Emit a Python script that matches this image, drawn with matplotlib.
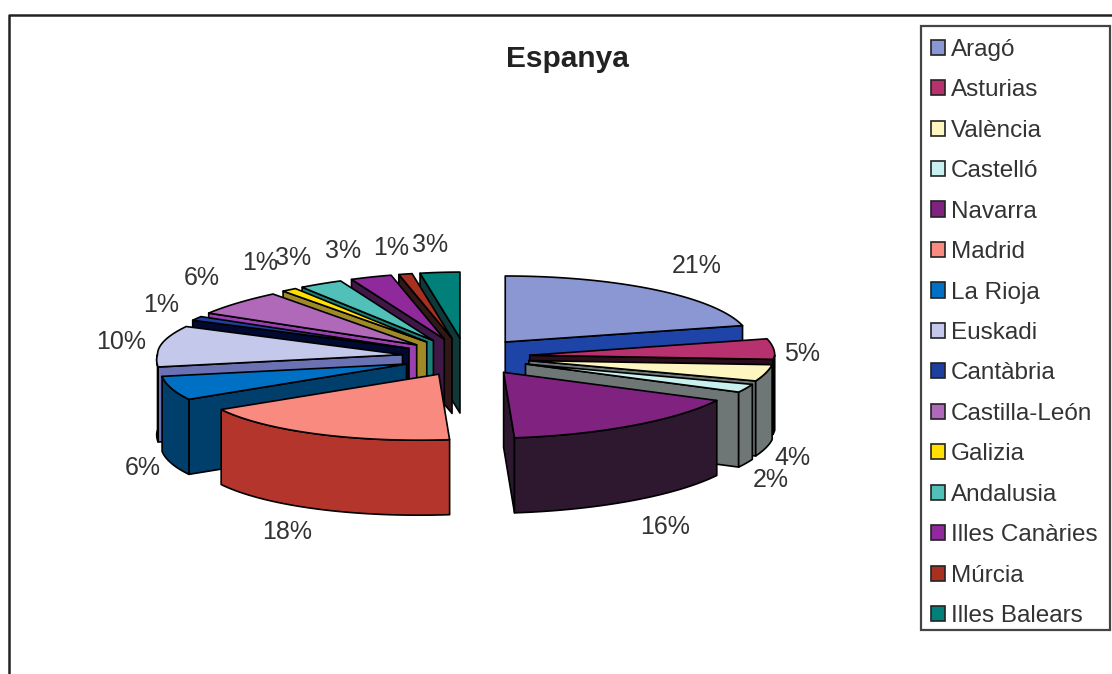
import numpy as np
import matplotlib
matplotlib.use("Agg")
import matplotlib.pyplot as plt
from matplotlib.patches import Patch, Polygon, Rectangle

plt.rcParams["font.family"] = ["Liberation Sans", "DejaVu Sans"]

REGIONS = ["Aragó", "Asturias", "València", "Castelló", "Navarra", "Madrid", "La Rioja", "Euskadi",
           "Cantàbria", "Castilla-León", "Galizia", "Andalusia", "Illes Canàries", "Múrcia", "Illes Balears"]
VALUES = [21, 5, 4, 2, 16, 18, 6, 10, 1, 6, 1, 3, 3, 1, 3]
TOP_COLORS = ["#8a97d2", "#b8316f", "#fdf6c0", "#c8f0ee", "#7f2280", "#f88a80", "#0070c4", "#c4c8ea",
              "#1e3ea0", "#b068b8", "#ffe000", "#50c0b8", "#902a9c", "#a83020", "#008078"]
WALL_COLORS = ["#1f44a8", "#2b0f1c", "#6e7676", "#6e7676", "#2e1830", "#b4352c", "#003f6c", "#6a72b4",
               "#000a30", "#9a40b0", "#a08a28", "#1a8078", "#401848", "#301818", "#103838"]

# pixel positions of the percent labels, same order as VALUES
LABEL_X = [697, 802, 792, 771, 665, 287, 143, 121, 161, 202, 260, 293, 343, 391, 430]
LABEL_Y = [266, 354, 458, 480, 527, 532, 468, 342, 305, 278, 263, 258, 251, 248, 245]

CX, CY = 466, 357
RX, RY = 245, 66
EXPLODE_X, EXPLODE_Y = 64, 19
HEIGHT = 75
FRONT_SKEW = 20
BACK_SQUEEZE = 33


def rim(apex, t):
    # outer edge of a slice, the old 3D charts are not a true ellipse:
    # front leans a bit left, back left part is squeezed to the right
    t = np.radians(t)
    x = apex[0] + RX * np.sin(t) - FRONT_SKEW * np.maximum(0, -np.cos(t))
    x = x + BACK_SQUEEZE * np.maximum(0, -np.sin(t)) * np.maximum(0, np.cos(t)) ** 2
    y = apex[1] - RY * np.cos(t)
    return np.column_stack([x, y])


def add_face(ax, pts, color):
    ax.add_patch(Polygon(pts, closed=True, facecolor=color, edgecolor="black", lw=1.2, joinstyle="round"))


def wall(ax, top_pts, color):
    add_face(ax, np.vstack([top_pts, (top_pts + [0, HEIGHT])[::-1]]), color)


def draw_slice(ax, start, end, top_color, wall_color):
    mid = np.radians((start + end) / 2)
    apex = np.array([CX + EXPLODE_X * np.sin(mid), CY - EXPLODE_Y * np.cos(mid)])
    arc = rim(apex, np.linspace(start, end, 60))

    if start > 180:
        wall(ax, np.vstack([apex, arc[0]]), wall_color)
    if end < 180:
        wall(ax, np.vstack([apex, arc[-1]]), wall_color)
    lo, hi = max(start, 90), min(end, 270)
    if lo < hi:
        wall(ax, rim(apex, np.linspace(lo, hi, 40)), wall_color)
    add_face(ax, np.vstack([apex, arc]), top_color)


def main():
    fig = plt.figure(figsize=(11.12, 6.74), dpi=100)
    ax = fig.add_axes([0, 0, 1, 1])
    ax.set_xlim(0, 1112)
    ax.set_ylim(674, 0)
    ax.axis("off")

    # chart frame runs off the picture on the right and bottom
    ax.plot([9, 9, 1112], [674, 15, 15], color="#222222", lw=1.8)

    edges = np.cumsum([0] + VALUES) / sum(VALUES) * 360
    order = sorted(range(len(VALUES)), key=lambda i: min((edges[i] + edges[i + 1]) / 2,
                                                         360 - (edges[i] + edges[i + 1]) / 2))
    for i in order:
        draw_slice(ax, edges[i], edges[i + 1], TOP_COLORS[i], WALL_COLORS[i])

    for v, x, y in zip(VALUES, LABEL_X, LABEL_Y):
        ax.text(x, y, f"{v}%", ha="center", va="center", fontsize=18, color="#333333")

    ax.text(567, 59, "Espanya", ha="center", va="center", fontsize=21.5, color="#222222", fontweight="bold")

    # legend frame drawn on its own, the legend's own padding can't match top and bottom
    ax.add_patch(Rectangle((921, 26), 189, 604, facecolor="white", edgecolor="#444444", lw=1.6))
    handles = [Patch(facecolor=c, edgecolor="#222222", lw=1.2) for c in TOP_COLORS]
    ax.legend(handles, REGIONS, loc="upper left", bbox_to_anchor=(921, 29), bbox_transform=ax.transData,
              borderaxespad=0, fontsize=17.5, frameon=False, labelcolor="#333333",
              handlelength=0.58, handleheight=0.58, handletextpad=0.25,
              labelspacing=0.76, borderpad=0.4)

    fig.savefig("out.png", dpi=100)
    plt.close(fig)


if __name__ == "__main__":
    main()
